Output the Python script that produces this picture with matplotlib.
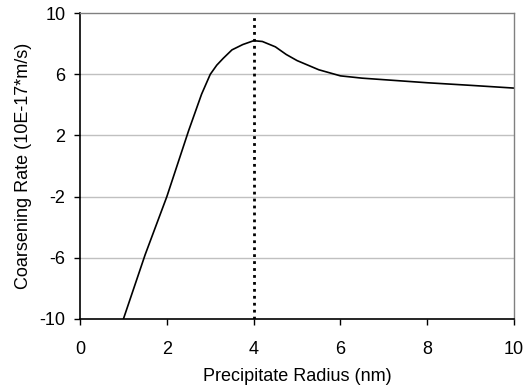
import matplotlib
matplotlib.use('Agg')
import matplotlib.pyplot as plt

plt.rcParams['font.family'] = ['Liberation Sans', 'DejaVu Sans']
plt.rcParams['axes.unicode_minus'] = False

# precipitate radius (nm) and coarsening rate (10E-17 m/s)
radius = [1.0, 1.25, 1.5, 2.0, 2.5, 2.8, 3.0, 3.15, 3.3, 3.5, 3.75, 4.0, 4.2,
          4.5, 4.75, 5.0, 5.5, 6.0, 6.5, 7.0, 8.0, 9.0, 10.0]
rate = [-10.0, -7.9, -5.8, -2.0, 2.3, 4.7, 6.0, 6.6, 7.05, 7.6, 7.95, 8.2, 8.15,
        7.8, 7.3, 6.9, 6.3, 5.9, 5.75, 5.65, 5.45, 5.28, 5.1]
peak_radius = 4.0
x_ticks = [0, 2, 4, 6, 8, 10]
y_ticks = [-10, -6, -2, 2, 6, 10]

fig = plt.figure(figsize=(5.23, 3.88), dpi=100)
ax = fig.add_axes([0.153, 0.178, 0.830, 0.788])

for y in y_ticks[1:-1]:
    ax.axhline(y, color='#c0c0c0', linewidth=1, zorder=0)

ax.plot(radius, rate, color='black', linewidth=1.2)
ax.axvline(peak_radius, color='black', linestyle=(0, (1, 1.5)), linewidth=2)

ax.set_xlim(0, 10)
ax.set_ylim(-10, 10)
ax.set_xticks(x_ticks)
ax.set_yticks(y_ticks)
ax.tick_params(direction='out', length=4, width=1, labelsize=13, colors='black')
ax.tick_params(axis='x', pad=12)
ax.tick_params(axis='y', pad=6.5)

for side in ['left', 'bottom']:
    ax.spines[side].set_color('black')
    ax.spines[side].set_linewidth(1.2)
for side in ['top', 'right']:
    ax.spines[side].set_color('#808080')
    ax.spines[side].set_linewidth(1)

ax.set_xlabel('Precipitate Radius (nm)', fontsize=13, labelpad=7)
ax.set_ylabel('Coarsening Rate (10E-17*m/s)', fontsize=13, labelpad=5)

fig.savefig('out.png', dpi=100)
